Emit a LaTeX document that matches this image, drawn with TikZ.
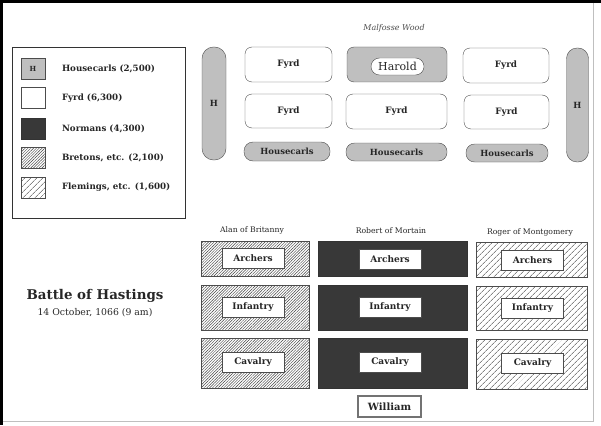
\documentclass[tikz,border=0pt]{standalone}
\usepackage{fontspec}
\setmainfont{DejaVu Serif}
\usetikzlibrary{patterns.meta}

\newcommand{\fsz}[1]{\fontsize{#1}{#1}\selectfont}

\begin{document}
\begin{tikzpicture}[x=1pt, y=-1pt,
	every node/.style={inner sep=0pt, outer sep=0pt, text=black!85},
	fyrd/.style={draw=black!70, fill=white, rounded corners=7pt, font=\bfseries\fsz{8.8}},
	hcarls/.style={draw=black!70, fill=black!25, font=\bfseries\fsz{8.5}},
	normans/.style={draw=black!80, fill=black!78},
	bretons/.style={draw=black!70, pattern={Lines[angle=45, distance=2pt, line width=0.45pt]}, pattern color=black!75},
	flemings/.style={draw=black!70, pattern={Lines[angle=45, distance=4pt, line width=0.6pt]}, pattern color=black!75},
	unitbox/.style={draw=black!70, fill=white, minimum width=62pt, minimum height=20pt, font=\bfseries\fsz{9}},
	keybox/.style={draw=black!70, minimum width=24pt, minimum height=21pt},
	keytext/.style={anchor=west, font=\bfseries\fsz{8.7}},
	leader/.style={font=\fsz{7.7}}]
	\useasboundingbox (0, 0) rectangle (601, 425);
	% frame
	\fill [black] (0, 0) rectangle (3, 425);
	\fill [black] (0, 0) rectangle (601, 3);
	\draw [black!25] (593, 3) -- (593, 421) -- (3, 421);

	% key
	\node [draw=black!80, line width=0.8pt, minimum width=173pt, minimum height=171pt] (key) at (98.5, 132.5) {};
	\node [keybox, fill=black!25, font=\bfseries\fsz{7}] (keyH) at (33, 68.5) {H};
	\node [keytext] at (62, 68.5) {Housecarls (2,500)};
	\node [keybox, fill=white] (keyF) at (33, 98) {};
	\node [keytext] at (62, 98) {Fyrd (6,300)};
	\node [keybox, normans] (keyN) at (33, 128.5) {};
	\node [keytext] at (62, 128.5) {Normans (4,300)};
	\node [keybox, bretons] (keyB) at (33, 157.5) {};
	\node [keytext] at (62, 157.5) {Bretons, etc. (2,100)};
	\node [keybox, flemings] (keyL) at (33, 187.5) {};
	\node [keytext] at (62, 187.5) {Flemings, etc. (1,600)};

	% title
	\node [font=\bfseries\fsz{13.4}] (title) at (95, 296) {Battle of Hastings};
	\node [font=\fsz{9.3}] (date) at (95, 313) {14 October, 1066 (9 am)};

	% English line
	\node [font=\itshape\fsz{8}, text=black!70] (wood) at (394, 28) {Malfosse Wood};
	\node [hcarls, minimum width=24pt, minimum height=113pt, rounded corners=11.5pt] (hleft) at (214, 103.5) {H};
	\node [hcarls, minimum width=22pt, minimum height=114pt, rounded corners=10.5pt] (hright) at (577.5, 105) {H};
	\node [fyrd, minimum width=87pt, minimum height=35pt] (fyrdA) at (288.5, 64.5) {Fyrd};
	\node [fyrd, fill=black!25, minimum width=100pt, minimum height=35pt] (centre) at (397, 64.5) {};
	\node [draw=black!70, fill=white, rounded corners=8.5pt, minimum width=53pt, minimum height=17pt, font=\fsz{11}] (harold) at (397.5, 66.5) {Harold};
	\node [fyrd, minimum width=86pt, minimum height=35pt] (fyrdB) at (506, 65.5) {Fyrd};
	\node [fyrd, minimum width=87pt, minimum height=34pt] (fyrdC) at (288.5, 111) {Fyrd};
	\node [fyrd, minimum width=101pt, minimum height=35pt] (fyrdD) at (396.5, 111.5) {Fyrd};
	\node [fyrd, minimum width=85pt, minimum height=34pt] (fyrdE) at (506.5, 112) {Fyrd};
	\node [hcarls, minimum width=86pt, minimum height=19pt, rounded corners=9pt] (hcA) at (287, 151.5) {Housecarls};
	\node [hcarls, minimum width=101pt, minimum height=18pt, rounded corners=8.5pt] (hcB) at (396.5, 152) {Housecarls};
	\node [hcarls, minimum width=82pt, minimum height=18pt, rounded corners=8.5pt] (hcC) at (507, 153) {Housecarls};

	% Norman line
	\node [leader] (alan) at (252, 230) {Alan of Britanny};
	\node [leader] (robert) at (391, 231) {Robert of Mortain};
	\node [leader] (roger) at (530, 232) {Roger of Montgomery};

	\node [bretons, minimum width=108pt, minimum height=35pt] (brA) at (255, 259) {};
	\node [bretons, minimum width=108pt, minimum height=45pt] (brI) at (255, 307.5) {};
	\node [bretons, minimum width=108pt, minimum height=50pt] (brC) at (255, 363.5) {};
	\node [normans, minimum width=149pt, minimum height=35pt] (noA) at (392.5, 259) {};
	\node [normans, minimum width=149pt, minimum height=45pt] (noI) at (392.5, 307.5) {};
	\node [normans, minimum width=149pt, minimum height=50pt] (noC) at (392.5, 363.5) {};
	\node [flemings, minimum width=111pt, minimum height=35pt] (flA) at (531.5, 259.5) {};
	\node [flemings, minimum width=111pt, minimum height=44pt] (flI) at (531.5, 308) {};
	\node [flemings, minimum width=111pt, minimum height=50pt] (flC) at (531.5, 364) {};

	\node [unitbox] at (253, 258.5) {Archers};
	\node [unitbox] at (253, 307.5) {Infantry};
	\node [unitbox] at (253, 362.5) {Cavalry};
	\node [unitbox] at (390, 259.5) {Archers};
	\node [unitbox] at (390, 307.5) {Infantry};
	\node [unitbox] at (390, 362.5) {Cavalry};
	\node [unitbox] at (532.5, 260.5) {Archers};
	\node [unitbox] at (532.5, 308.5) {Infantry};
	\node [unitbox] at (532.5, 363) {Cavalry};

	\node [draw=black!55, line width=1.3pt, fill=white, minimum width=63pt, minimum height=21pt, font=\bfseries\fsz{10}] (william) at (389.5, 406.5) {William};
\end{tikzpicture}
\end{document}
